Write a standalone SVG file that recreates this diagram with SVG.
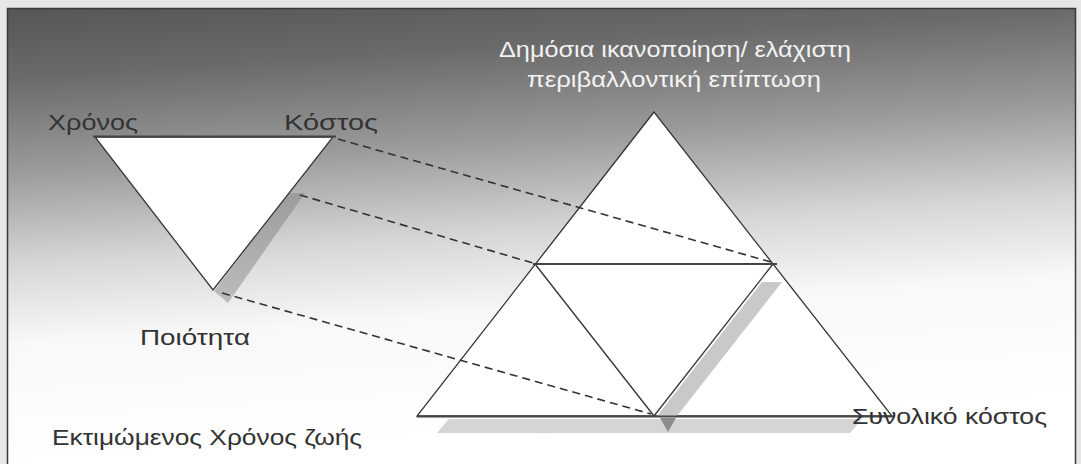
<svg xmlns="http://www.w3.org/2000/svg" width="1081" height="464" viewBox="0 0 1081 464">
  <defs>
    <linearGradient id="bg" x1="0" y1="0" x2="0.15" y2="1">
      <stop offset="0" stop-color="#565656"/>
      <stop offset="0.15" stop-color="#6a6a6a"/>
      <stop offset="0.35" stop-color="#9a9a9a"/>
      <stop offset="0.55" stop-color="#d6d6d6"/>
      <stop offset="0.72" stop-color="#f8f8f8"/>
      <stop offset="1" stop-color="#ffffff"/>
    </linearGradient>
    <linearGradient id="shadowFade" x1="0" y1="0" x2="0" y2="1">
      <stop offset="0" stop-color="#9c9c9c"/>
      <stop offset="1" stop-color="#bcbcbc"/>
    </linearGradient>
  </defs>
  <style>
    .tri { fill: #ffffff; stroke: #333333; stroke-width: 1.3; stroke-linejoin: miter; }
    .edge { stroke: #333333; stroke-width: 1.3; fill: none; }
    .base { stroke: #444444; stroke-width: 2.2; fill: none; }
    .dash { stroke: #333333; stroke-width: 1.6; stroke-dasharray: 8 5; fill: none; }
    .lbl { font-family: "Liberation Sans", Arial, sans-serif; font-size: 22px; fill: #333333; }
    .lbl-light { font-family: "Liberation Sans", Arial, sans-serif; font-size: 22px; fill: #f2f2f2; }
    .shadow { fill: #c9c9c9; }
    .shadow-low { fill: #d5d5d5; }
    .shadow-dark { fill: #8c8c8c; }
  </style>

  <!-- background and frame -->
  <rect x="0" y="0" width="1081" height="464" fill="#e6e6e6"/>
  <rect x="7" y="8" width="1069" height="456" fill="url(#bg)"/>
  <rect x="7.5" y="8.5" width="1068" height="462" fill="none" stroke="#3a3a3a" stroke-width="1.5"/>

  <!-- small inverted triangle -->
  <g id="small-triangle">
    <polygon points="289,193 305,193 228,303 214,291" fill="url(#shadowFade)"/>
    <polygon class="tri" points="95,137 333,137 213,290"/>
    <line class="base" x1="93" y1="136.5" x2="336" y2="136.5"/>
  </g>

  <!-- large subdivided triangle -->
  <g id="big-triangle">
    <polygon class="tri" points="654,112 417,416 892,416"/>
    <polygon class="shadow" points="762,282 782,282 677,416 657,416"/>
    <polygon class="shadow-low" points="437,433 449,419 862,419 850,433"/>
    <polygon class="shadow-dark" points="660,418 676,418 668,432"/>
    <line class="edge" x1="535" y1="264" x2="654" y2="416"/>
    <line class="edge" x1="773" y1="264" x2="654" y2="416"/>
    <line class="base" x1="533" y1="264" x2="777" y2="264"/>
    <line class="base" x1="417" y1="416.5" x2="893" y2="416.5"/>
  </g>

  <!-- connectors -->
  <g id="connectors">
    <line class="dash" x1="338" y1="139" x2="771" y2="262"/>
    <line class="dash" x1="300" y1="195" x2="533" y2="263"/>
    <line class="dash" x1="222" y1="293" x2="651" y2="414"/>
  </g>

  <!-- labels -->
  <g id="label-xronos"><text class="lbl" x="48" y="130" textLength="90" lengthAdjust="spacingAndGlyphs">Χρόνος</text></g>
  <g id="label-kostos"><text class="lbl" x="284" y="130" textLength="94" lengthAdjust="spacingAndGlyphs">Κόστος</text></g>
  <g id="label-poiotita"><text class="lbl" x="140" y="345" textLength="110" lengthAdjust="spacingAndGlyphs">Ποιότητα</text></g>
  <g id="label-top">
    <text class="lbl-light" x="499" y="57" textLength="352" lengthAdjust="spacingAndGlyphs">Δημόσια ικανοποίηση/ ελάχιστη</text>
    <text class="lbl-light" x="527" y="87" textLength="294" lengthAdjust="spacingAndGlyphs">περιβαλλοντική επίπτωση</text>
  </g>
  <g id="label-lifetime"><text class="lbl" x="52" y="445" textLength="310" lengthAdjust="spacingAndGlyphs">Εκτιμώμενος Χρόνος ζωής</text></g>
  <g id="label-cost"><text class="lbl" x="852" y="424" textLength="195" lengthAdjust="spacingAndGlyphs">Συνολικό κόστος</text></g>
</svg>
